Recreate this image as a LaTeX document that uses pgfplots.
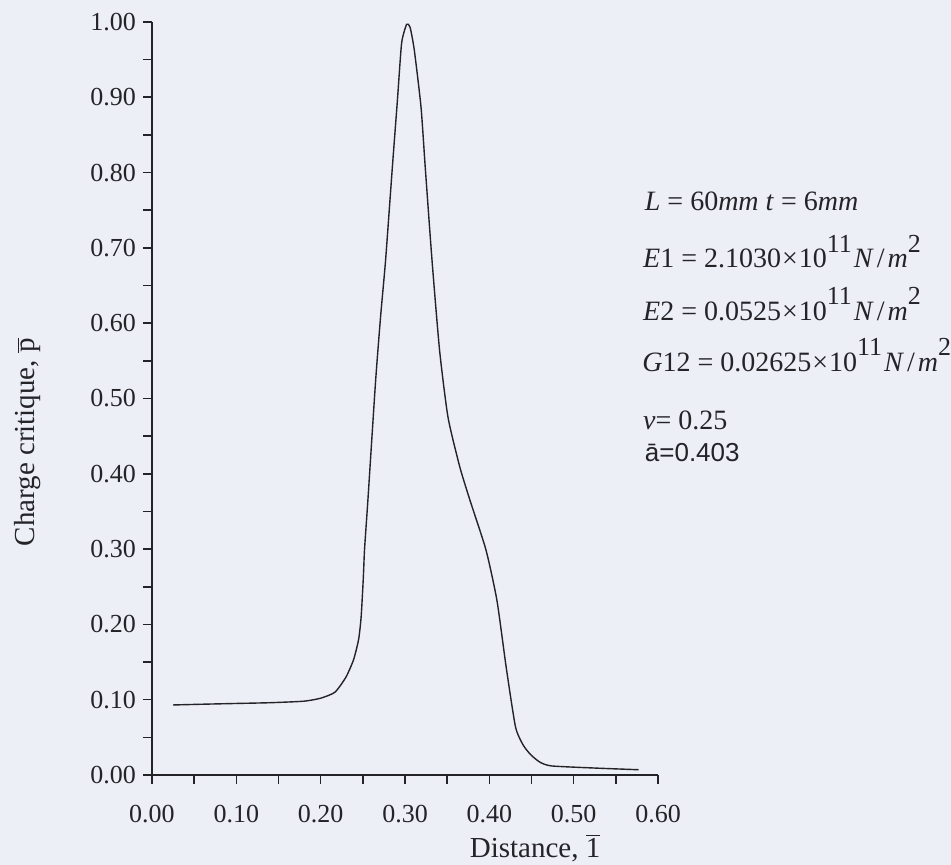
\documentclass[border=0pt]{standalone}
\usepackage{pgfplots}
\pgfplotsset{compat=1.18}
\usepackage{fontspec}
\setmainfont{Liberation Serif}
\newfontfamily\arialfont{Liberation Sans}
\definecolor{paper}{RGB}{237,239,246}
\definecolor{ink}{RGB}{35,35,40}

\pgfplotstableread{
x y
0.025 0.093
0.060 0.094
0.100 0.095
0.140 0.096
0.180 0.098
0.200 0.102
0.217 0.110
0.230 0.130
0.239 0.153
0.245 0.180
0.248 0.210
0.2505 0.260
0.252 0.299
0.256 0.365
0.265 0.521
0.271 0.608
0.277 0.684
0.285 0.807
0.291 0.896
0.296 0.972
0.302 0.997
0.306 0.993
0.311 0.963
0.319 0.887
0.324 0.807
0.332 0.684
0.341 0.564
0.351 0.475
0.365 0.409
0.377 0.365
0.396 0.299
0.409 0.232
0.420 0.143
0.431 0.064
0.440 0.040
0.449 0.027
0.460 0.017
0.474 0.012
0.530 0.009
0.577 0.007
}\curve

\newcommand{\supx}[1]{\raisebox{0.55em}{\fontsize{13}{15}\selectfont #1}}
\tikzset{annot/.style={anchor=base west, inner sep=0pt, font=\fontsize{14}{16}\selectfont, text=ink}}

\begin{document}
\begin{tikzpicture}
\fill[paper] (-76pt,-45pt) rectangle (399.5pt,387.5pt);
\begin{axis}[
  at={(0pt,0pt)}, anchor=south west,
  scale only axis, width=253pt, height=376.5pt,
  xmin=0, xmax=0.6, ymin=0, ymax=1,
  axis lines=left,
  axis line style={ink, line width=0.9pt, -},
  tick align=outside,
  xtick={0,0.1,0.2,0.3,0.4,0.5,0.6},
  ytick={0,0.1,0.2,0.3,0.4,0.5,0.6,0.7,0.8,0.9,1.0},
  minor tick num=1,
  major tick length=4.5pt, minor tick length=4.5pt,
  every tick/.style={ink, line width=0.8pt},
  /pgf/number format/fixed,
  /pgf/number format/fixed zerofill,
  /pgf/number format/precision=2,
  /pgf/number format/assume math mode=true,
  xticklabel style={font=\fontsize{13}{15}\selectfont, text=ink, yshift=-7pt},
  yticklabel style={font=\fontsize{13}{15}\selectfont, text=ink},
  clip=false,
  every axis x label/.style={at={(rel axis cs:0.757,0)}, yshift=-36.5pt, anchor=center},
  every axis y label/.style={at={(rel axis cs:0,0.442)}, xshift=-62pt, rotate=90, anchor=center},
  xlabel style={font=\fontsize{14.5}{17}\selectfont, text=ink},
  ylabel style={font=\fontsize{14.5}{17}\selectfont, text=ink},
  xlabel={Distance, $\overline{\mbox{1}}$},
  ylabel={Charge critique, $\overline{\mbox{p}}$},
]
\addplot[ink, line width=0.7pt, smooth, tension=0.35] table[x=x, y=y] {\curve};

\node[annot] at (axis cs:0.584,0.750)
  {\textit{L} = 60\textit{mm} \textit{t} = 6\textit{mm}};
\node[annot] at (axis cs:0.582,0.674)
  {\textit{E}1 = 2.1030{\kern0.5pt}×{\kern0.5pt}10\supx{11}{\kern1pt}\textit{N}{\kern1.5pt}/{\kern1.5pt}\textit{m}\supx{2}};
\node[annot] at (axis cs:0.582,0.604)
  {\textit{E}2 = 0.0525{\kern0.5pt}×{\kern0.5pt}10\supx{11}{\kern1pt}\textit{N}{\kern1.5pt}/{\kern1.5pt}\textit{m}\supx{2}};
\node[annot] at (axis cs:0.581,0.536)
  {\textit{G}12 = 0.02625{\kern0.5pt}×{\kern0.5pt}10\supx{11}{\kern1pt}\textit{N}{\kern1.5pt}/{\kern1.5pt}\textit{m}\supx{2}};
\node[annot] at (axis cs:0.582,0.459)
  {\textit{ν}= 0.25};
\node[annot, font=\arialfont\fontsize{13}{15}\selectfont] at (axis cs:0.584,0.416)
  {ā=0.403};
\end{axis}
\pgfresetboundingbox
\path (-76pt,-45pt) rectangle (399.5pt,387.5pt);
\end{tikzpicture}
\end{document}
